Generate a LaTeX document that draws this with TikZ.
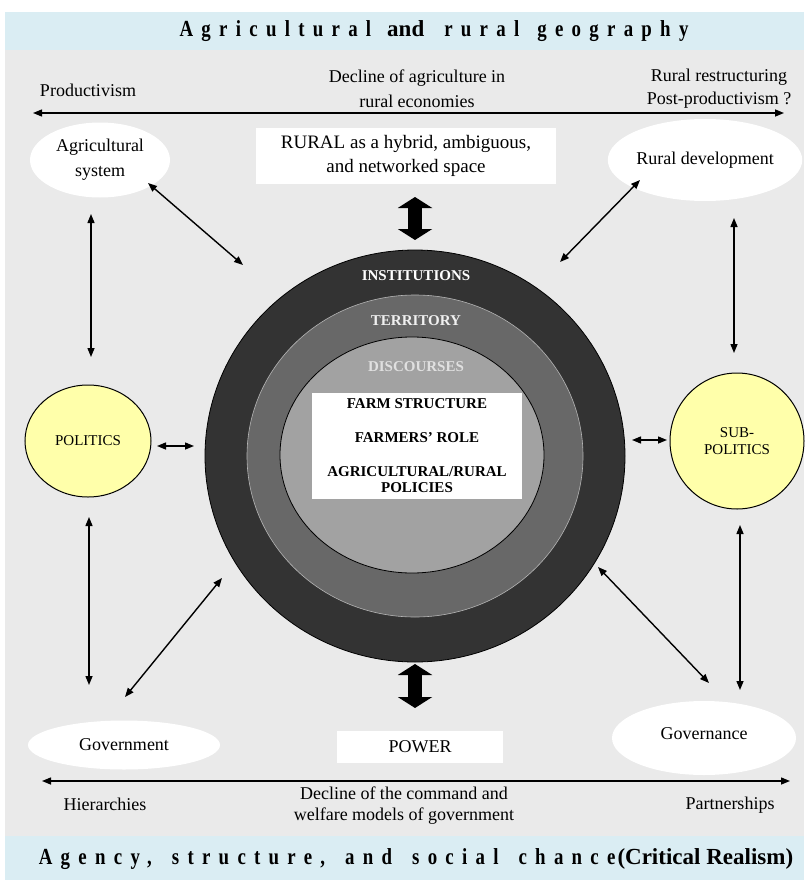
\documentclass[tikz,border=0pt]{standalone}
\usepackage{fontspec}
\setmainfont{Liberation Serif}
\newfontfamily\spacedfont[FakeStretch=0.82,LetterSpace=36]{Liberation Serif}
\usetikzlibrary{arrows.meta,shapes.geometric}

\definecolor{bandblue}{RGB}{218,237,243}
\definecolor{bggrey}{RGB}{234,234,234}
\definecolor{ringdark}{RGB}{51,51,51}
\definecolor{ringmid}{RGB}{104,104,104}
\definecolor{ringlight}{RGB}{162,162,162}
\definecolor{paleyellow}{RGB}{255,255,170}

\newcommand{\wordgap}[1]{\hspace*{#1}}

\tikzset{
  body/.style={font=\fontsize{18}{22}\selectfont, inner sep=0pt},
  small/.style={font=\fontsize{15}{17}\selectfont, inner sep=0pt},
  ring label/.style={font=\fontsize{15}{17}\selectfont\bfseries, inner sep=0pt},
  title/.style={font=\fontsize{23}{26}\selectfont, inner sep=0pt},
  white oval/.style={ellipse, fill=white, inner sep=0pt},
  yellow oval/.style={ellipse, fill=paleyellow, draw=black, line width=1pt, inner sep=0pt},
  white box/.style={rectangle, fill=white, inner sep=0pt},
  link/.style={line width=1.4pt,
    {Triangle[length=9pt,width=7pt]}-{Triangle[length=9pt,width=7pt]}},
  block link/.style={line width=14pt,
    {Triangle[length=11pt,width=34pt]}-{Triangle[length=11pt,width=34pt]}}
}

\begin{document}
\begin{tikzpicture}[x=1pt,y=-1pt]
\useasboundingbox (0,0) rectangle (804,883);

% background bands
\fill[white] (0,0) rectangle (804,883);
\fill[bandblue] (5,12) rectangle (804,50);
\fill[bggrey] (5,50) rectangle (804,836);
\fill[bandblue] (5,836) rectangle (804,880);

% titles
\node[title] (toptitle) at (434,31)
  {{\spacedfont\bfseries Agricultural}\wordgap{16pt}{\bfseries and}\wordgap{20pt}{\spacedfont\bfseries rural}\wordgap{18pt}{\spacedfont\bfseries geography}};
\node[title] (bottitle) at (416,859)
  {{\spacedfont\bfseries Agency,}\wordgap{20pt}{\spacedfont\bfseries structure,}\wordgap{20pt}{\spacedfont\bfseries and}\wordgap{20pt}{\spacedfont\bfseries social}\wordgap{20pt}{\spacedfont\bfseries chance}\wordgap{2pt}{\bfseries(Critical Realism)}};

% top scale
\node[body] (prod) at (88,90) {Productivism};
\node[body, align=center, font=\fontsize{18}{25}\selectfont] (decline) at (417,89) {Decline of agriculture in\\rural economies};
\node[body, align=center, font=\fontsize{18}{23}\selectfont] (restr) at (719,89) {Rural restructuring\\Post-productivism ?};
\coordinate (topL) at (33,113);
\coordinate (topR) at (784,113);
\draw[link] (topL) -- (topR);

% bottom scale
\node[body] (hier) at (105,804) {Hierarchies};
\node[body, align=center, font=\fontsize{18}{21}\selectfont] (command) at (404,806) {Decline of the command and\\welfare models of government};
\node[body] (partner) at (730,805) {Partnerships};
\coordinate (botL) at (42,781);
\coordinate (botR) at (790,781);
\draw[link] (botL) -- (botR);

% outer nodes
\node[white oval, minimum width=140pt, minimum height=75pt, body, align=center,
      font=\fontsize{18}{25}\selectfont] (agri) at (100,160) {Agricultural\\system};
\node[white oval, minimum width=174pt, minimum height=82pt, body] (ruraldev) at (705,160) {Rural development};
\node[white box, minimum width=300pt, minimum height=56pt, body, align=center,
      font=\fontsize{19}{24}\selectfont] (rural) at (406,156) {RURAL as a hybrid, ambiguous,\\and networked space};
\node[yellow oval, minimum width=126pt, minimum height=112pt, small] (pol) at (88,441) {POLITICS};
\node[yellow oval, minimum width=134pt, minimum height=136pt, small, align=center] (subpol) at (737,441) {SUB-\\POLITICS};
\node[white oval, minimum width=192pt, minimum height=49pt, body] (gov) at (124,745) {Government};
\node[white oval, minimum width=184pt, minimum height=74pt, body] (govern) at (704,738) {};
\node[body] (governtext) at (704,734) {Governance};
\node[white box, minimum width=166pt, minimum height=32pt, body] (power) at (420,747) {POWER};

% concentric rings
\node[ellipse, fill=ringdark, draw=black, line width=0.8pt, minimum width=420pt, minimum height=412pt] (outer) at (415,456) {};
\node[ellipse, fill=ringmid, draw=ringlight!80!white, line width=0.6pt, minimum width=336pt, minimum height=322pt] (middle) at (415,456) {};
\node[ellipse, fill=ringlight, draw=black, line width=0.8pt, minimum width=264pt, minimum height=236pt] (inner) at (412,455) {};
\node[ring label, text=white] (inst) at (416,276) {INSTITUTIONS};
\node[ring label, text=white!94!black] (terr) at (416,321) {TERRITORY};
\node[ring label, text=white!88!black] (disc) at (416,367) {DISCOURSES};
\node[white box, minimum width=210pt, minimum height=106pt, align=center,
      font=\fontsize{15}{16}\selectfont\bfseries] (core) at (417,446)
  {FARM STRUCTURE\\[18pt]FARMERS’ ROLE\\[18pt]AGRICULTURAL/RURAL\\POLICIES};

% block arrows
\coordinate (upA) at (415,197);
\coordinate (upB) at (415,240);
\coordinate (loA) at (415,664);
\coordinate (loB) at (415,708);
\draw[block link] (upA) -- (upB);
\draw[block link] (loA) -- (loB);

% connector ends
\coordinate (agriV1) at (91,214);
\coordinate (agriV2) at (91,357);
\coordinate (agriD1) at (148,183);
\coordinate (agriD2) at (243,265);
\coordinate (devD1) at (640,180);
\coordinate (devD2) at (560,262);
\coordinate (devV1) at (734,218);
\coordinate (devV2) at (734,353);
\coordinate (polH1) at (157,446);
\coordinate (polH2) at (194,446);
\coordinate (subH1) at (632,440);
\coordinate (subH2) at (667,440);
\coordinate (govV1) at (89,517);
\coordinate (govV2) at (89,685);
\coordinate (govD1) at (222,578);
\coordinate (govD2) at (125,697);
\coordinate (gnD1) at (598,567);
\coordinate (gnD2) at (709,683);
\coordinate (gnV1) at (740,525);
\coordinate (gnV2) at (740,690);

\draw[link] (agriV1) -- (agriV2);
\draw[link] (agriD1) -- (agriD2);
\draw[link] (devD1) -- (devD2);
\draw[link] (devV1) -- (devV2);
\draw[link] (polH1) -- (polH2);
\draw[link] (subH1) -- (subH2);
\draw[link] (govV1) -- (govV2);
\draw[link] (govD1) -- (govD2);
\draw[link] (gnD1) -- (gnD2);
\draw[link] (gnV1) -- (gnV2);
\end{tikzpicture}
\end{document}
